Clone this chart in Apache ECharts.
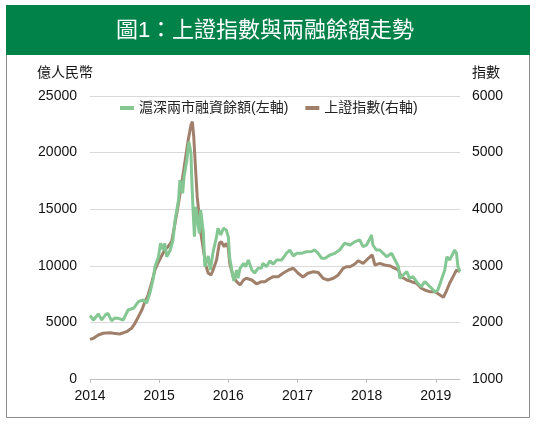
<!DOCTYPE html>
<html>
<head>
<meta charset="utf-8">
<script src="https://cdn.jsdelivr.net/npm/echarts@6/dist/echarts.min.js"></script>
<style>
html,body{margin:0;padding:0;background:#fff;}
#c{width:538px;height:427px;}
</style>
</head>
<body>
<div id="c"></div>
<script>
// Time in decimal years
const marginDates = [2014.00,2014.05,2014.12,2014.17,2014.22,2014.26,2014.31,2014.36,2014.41,2014.48,2014.55,2014.63,2014.70,2014.77,2014.82,2014.87,2014.91,2014.94,2014.99,2015.02,2015.06,2015.08,2015.11,2015.16,2015.20,2015.23,2015.28,2015.30,2015.34,2015.36,2015.40,2015.43,2015.46,2015.47,2015.49,2015.51,2015.53,2015.55,2015.58,2015.60,2015.64,2015.66,2015.71,2015.74,2015.78,2015.83,2015.85,2015.89,2015.93,2015.97,2016.00,2016.02,2016.05,2016.08,2016.12,2016.14,2016.17,2016.22,2016.25,2016.29,2016.34,2016.38,2016.43,2016.48,2016.50,2016.55,2016.60,2016.65,2016.70,2016.77,2016.84,2016.89,2016.94,2016.99,2017.06,2017.13,2017.20,2017.25,2017.30,2017.35,2017.40,2017.47,2017.54,2017.61,2017.68,2017.76,2017.83,2017.90,2017.95,2018.00,2018.05,2018.07,2018.09,2018.14,2018.19,2018.24,2018.29,2018.36,2018.41,2018.46,2018.48,2018.53,2018.58,2018.62,2018.67,2018.74,2018.79,2018.84,2018.89,2018.94,2018.99,2019.03,2019.08,2019.13,2019.16,2019.20,2019.25,2019.27,2019.30,2019.32,2019.35];
const marginValues = [5610,5212,5742,5212,5654,5804,5150,5389,5362,5212,6095,6246,6829,6979,6714,7686,8746,9921,10804,11988,11396,11988,10804,11396,12279,14046,15813,17580,16405,17871,19346,20963,19938,17871,14929,12571,15221,14338,12871,14929,12871,9921,10866,9629,11219,12571,13313,12721,13313,13163,12571,10689,9629,8657,9629,8896,9779,10221,9921,10512,9629,9364,9779,9806,10221,9921,10424,10159,10512,10512,11104,11396,10866,11104,11104,11246,11263,11396,11104,10663,10663,10954,11104,11396,11988,11838,12129,12279,11687,11838,12429,12721,11838,11396,11396,11104,10804,11104,10512,9921,8896,9187,9479,8896,9037,8454,8154,8596,8304,8012,7686,7862,8746,9629,10804,10512,11104,11396,11104,9921,9479];

const indexDates = [2014.00,2014.05,2014.12,2014.19,2014.29,2014.34,2014.43,2014.53,2014.60,2014.65,2014.70,2014.75,2014.79,2014.84,2014.89,2014.94,2014.99,2015.01,2015.08,2015.13,2015.18,2015.23,2015.28,2015.33,2015.37,2015.42,2015.46,2015.48,2015.50,2015.53,2015.55,2015.58,2015.60,2015.64,2015.68,2015.71,2015.75,2015.78,2015.83,2015.87,2015.90,2015.94,2015.97,2016.00,2016.02,2016.07,2016.12,2016.17,2016.22,2016.26,2016.34,2016.41,2016.48,2016.53,2016.58,2016.65,2016.72,2016.79,2016.87,2016.94,2017.01,2017.08,2017.15,2017.23,2017.30,2017.37,2017.44,2017.52,2017.59,2017.66,2017.71,2017.76,2017.83,2017.88,2017.95,2018.00,2018.02,2018.08,2018.12,2018.19,2018.26,2018.34,2018.41,2018.46,2018.50,2018.58,2018.65,2018.72,2018.79,2018.84,2018.91,2018.99,2019.06,2019.11,2019.15,2019.20,2019.25,2019.30,2019.35];
const indexValues = [1701,1719,1777,1808,1818,1808,1795,1836,1896,1984,2101,2219,2352,2484,2691,2926,3067,3044,3279,3338,3426,3751,4105,4486,4811,5223,5488,5546,5281,4635,4221,3868,3603,3279,2984,2868,2838,2926,3103,3398,3426,3338,3398,3315,3044,2808,2719,2661,2749,2779,2749,2679,2719,2719,2762,2808,2808,2868,2926,2956,2868,2802,2868,2896,2882,2779,2749,2779,2838,2956,2984,2984,3032,3090,3044,3103,3103,3191,3014,3044,3014,2997,2956,2926,2808,2749,2719,2691,2603,2573,2543,2543,2484,2444,2543,2691,2808,2926,2896];

const xTicks = [2014,2015,2016,2017,2018,2019];
const seriesNames = ['滬深兩市融資餘額(左軸)','上證指數(右軸)'];
const titleText = '圖1：上證指數與兩融餘額走勢';
const leftUnit = '億人民幣';
const rightUnit = '指數';

const FONT = "'Liberation Sans', 'Noto Sans CJK TC', sans-serif";
const chart = echarts.init(document.getElementById('c'), null, {renderer:'canvas'});

const zip = (a,b) => a.map((d,i)=>[d,b[i]]);
const plain = v => String(Math.round(v));

chart.setOption({
  animation:false,
  textStyle:{fontFamily:FONT},
  graphic:[
    {type:'rect', shape:{x:6.5,y:5.5,width:523,height:412}, style:{fill:'#fff',stroke:'#8c8c8c',lineWidth:1}, z:-10, silent:true},
    {type:'rect', shape:{x:6,y:5,width:524,height:50}, style:{fill:'#008249'}, z:-9, silent:true},
    {type:'text', x:265, y:31, style:{text:titleText, fill:'#fff', font:"22px 'Liberation Sans','Noto Sans CJK TC',sans-serif", align:'center', verticalAlign:'middle'}, z:10, silent:true}
  ],
  legend:{
    data:seriesNames,
    left:115, top:96,
    icon:'rect', itemWidth:14, itemHeight:4, itemGap:17,
    textStyle:{fontSize:14, color:'#222', fontFamily:FONT}
  },
  grid:{left:90, right:78, top:96, bottom:48, containLabel:false},
  xAxis:{
    type:'value', min:2014, max:2019.35, interval:1,
    axisLine:{show:true, lineStyle:{color:'#bfbfbf'}},
    axisTick:{show:true, length:4, lineStyle:{color:'#bfbfbf'}, customValues:xTicks},
    axisLabel:{fontSize:14, color:'#111', margin:10, customValues:xTicks, formatter:plain},
    splitLine:{show:false}
  },
  yAxis:[
    {type:'value', min:0, max:25000, interval:5000, position:'left',
     name:leftUnit, nameLocation:'end', nameGap:16,
     nameTextStyle:{fontSize:14, color:'#111', align:'right', padding:[0,-3,0,0]},
     axisLine:{show:false}, axisTick:{show:false},
     axisLabel:{fontSize:14, color:'#111', margin:13, formatter:plain},
     splitLine:{show:true, lineStyle:{color:'#d9d9d9', width:1}}},
    {type:'value', min:1000, max:6000, interval:1000, position:'right',
     name:rightUnit, nameLocation:'end', nameGap:16,
     nameTextStyle:{fontSize:14, color:'#111', align:'left', padding:[0,0,0,12]},
     axisLine:{show:false}, axisTick:{show:false},
     axisLabel:{fontSize:14, color:'#111', margin:12, formatter:plain},
     splitLine:{show:false}}
  ],
  series:[
    {name:seriesNames[0], type:'line', yAxisIndex:0, data:zip(marginDates,marginValues),
     showSymbol:false, symbol:'none', lineStyle:{width:3, color:'#84c793'}, itemStyle:{color:'#84c793'}, z:3},
    {name:seriesNames[1], type:'line', yAxisIndex:1, data:zip(indexDates,indexValues),
     showSymbol:false, symbol:'none', lineStyle:{width:3, color:'#a0806a'}, itemStyle:{color:'#a0806a'}, z:2}
  ]
});
</script>
</body>
</html>
